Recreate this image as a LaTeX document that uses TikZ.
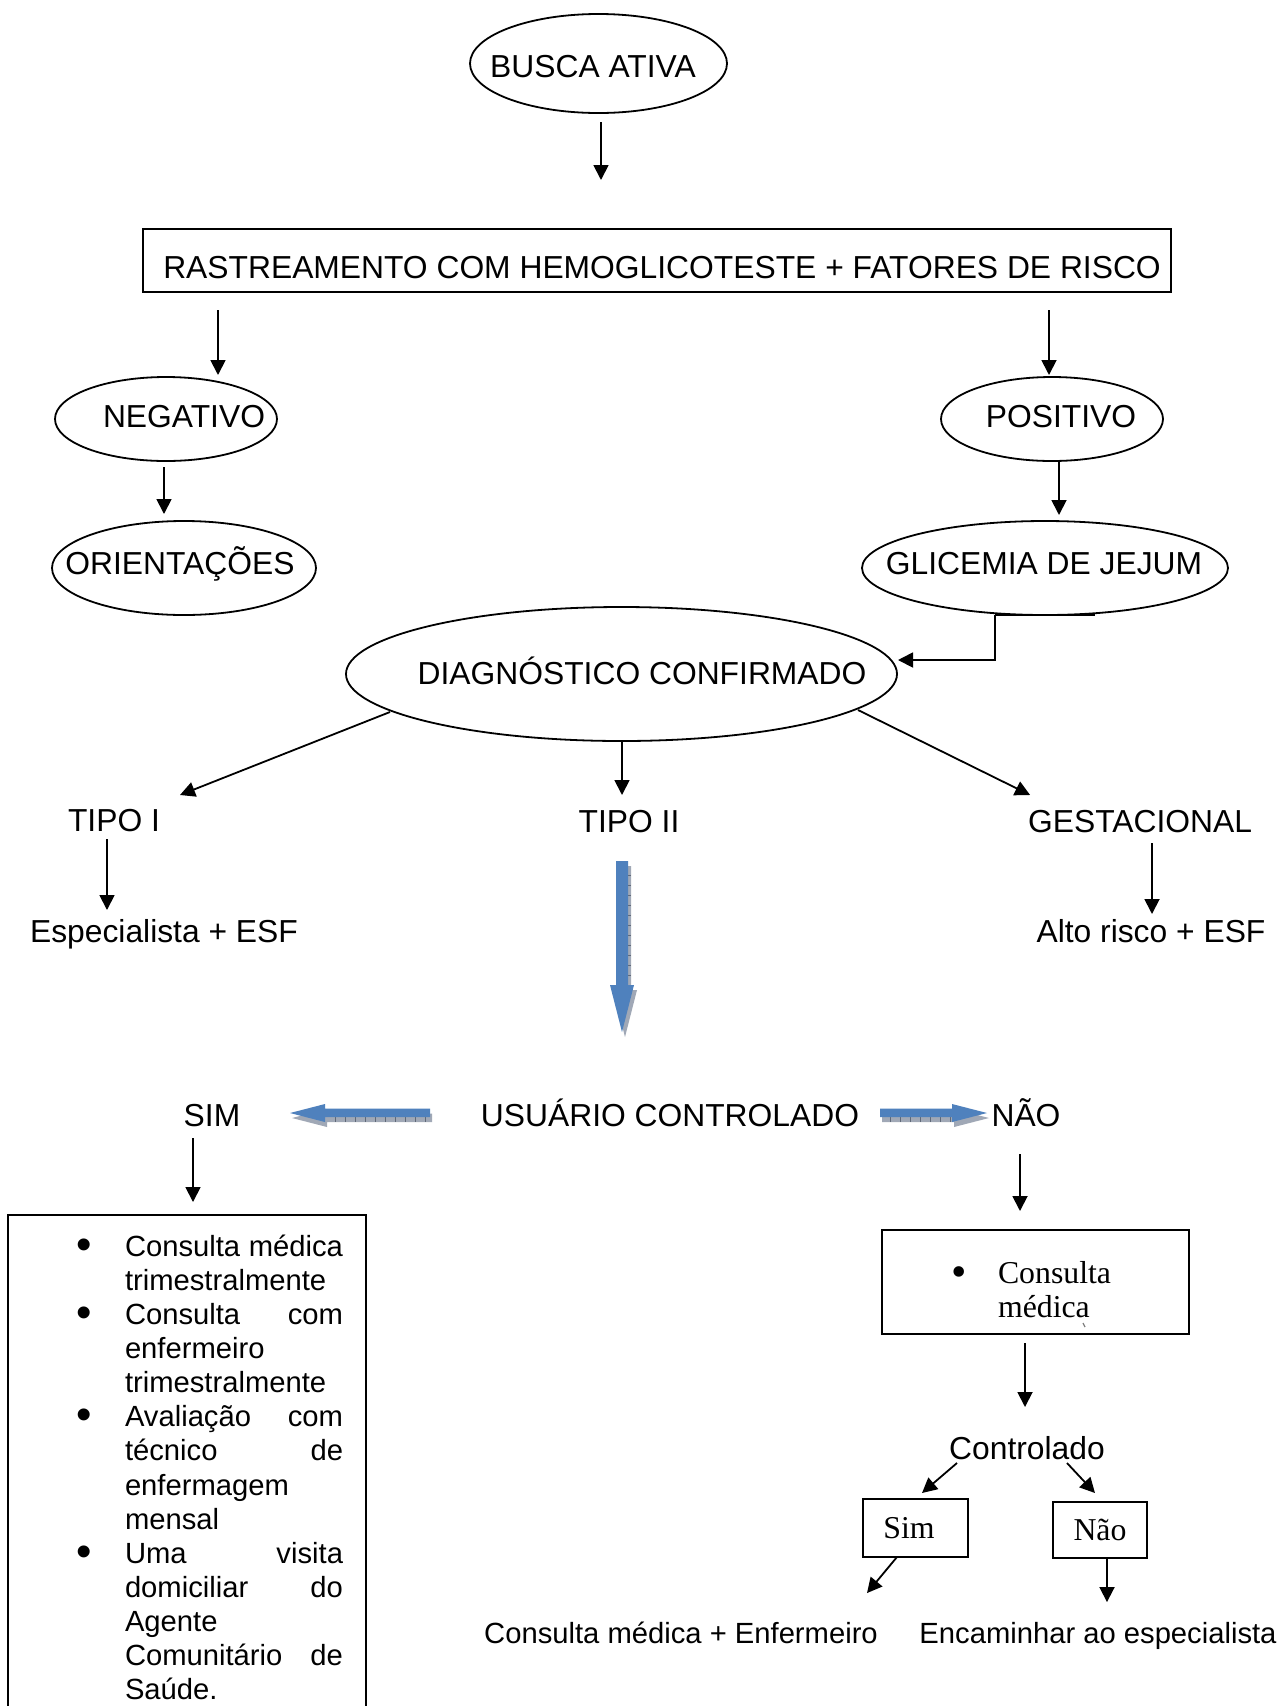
\documentclass[tikz,border=0pt]{standalone}
\usepackage{fontspec}
\setmainfont{Liberation Sans}
\newfontfamily\SerifFace{Liberation Serif}
\usetikzlibrary{arrows.meta,shapes.geometric,calc}
\definecolor{officeblue}{HTML}{4F81BD}
\definecolor{shadowfill}{RGB}{160,168,182}
\definecolor{shadowtick}{RGB}{95,105,120}
\newcommand\FontBig{\fontsize{31.8pt}{36pt}\selectfont}
\newcommand\FontSmall{\fontsize{29.2pt}{34.15pt}\selectfont}
\newcommand\FontSerif{\SerifFace\fontsize{31.8pt}{34pt}\selectfont}
\newcommand\BigBullet{\raisebox{-3pt}{\fontsize{44pt}{44pt}\selectfont •}}
\begin{document}
\begin{tikzpicture}[x=1pt,y=-1pt,
  every node/.style={inner sep=0pt, outer sep=0pt},
  ell/.style={draw, ellipse, line width=1.8pt},
  boxed/.style={draw, rectangle, line width=1.8pt},
  txt/.style={font=\FontBig, text height=22.8pt, text depth=0pt},
  txtsmall/.style={font=\FontSmall, text height=20.9pt, text depth=0pt},
  txtserif/.style={font=\FontSerif, anchor=base},
  arr/.style={line width=1.8pt, -{Triangle[length=15pt,width=15pt]}},
  plain/.style={line width=1.8pt},
  blockarrow/.style={fill=officeblue, draw=none},
  blockshadow/.style={fill=shadowfill, draw=none}
]
\useasboundingbox (0,0) rectangle (1281,1706);
\fill[white] (0,0) rectangle (1281,1706);

% ---- ellipses and boxes ----
\node[ell, minimum width=257pt, minimum height=99pt] (busca) at (598.5,63.5) {};
\node[boxed, minimum width=1028pt, minimum height=63pt] (rast) at (657,260.5) {};
\node[ell, minimum width=222pt, minimum height=84pt] (neg) at (166,419) {};
\node[ell, minimum width=222pt, minimum height=84pt] (pos) at (1052,419) {};
\node[ell, minimum width=264pt, minimum height=94pt] (orient) at (184,568) {};
\node[ell, minimum width=366pt, minimum height=94pt] (glic) at (1045,568) {};
\node[ell, minimum width=551pt, minimum height=134pt] (diag) at (621.5,674) {};

% ---- texts ----
\node[txt] (tbusca) at (593,66) {BUSCA ATIVA};
\node[txt] (trast) at (662,267.5) {RASTREAMENTO COM HEMOGLICOTESTE + FATORES DE RISCO};
\node[txt] (tneg) at (184,416) {NEGATIVO};
\node[txt] (tpos) at (1061,416) {POSITIVO};
\node[txt] (torient) at (180,563) {ORIENTAÇÕES};
\node[txt] (tglic) at (1044,563) {GLICEMIA DE JEJUM};
\node[txt] (tdiag) at (642,673.5) {DIAGNÓSTICO CONFIRMADO};
\node[txt] (tipo1) at (114,820) {TIPO I};
\node[txt] (tipo2) at (629,821) {TIPO II};
\node[txt] (gest) at (1140,821) {GESTACIONAL};
\node[txt] (esp) at (164,931) {Especialista + ESF};
\node[txt] (alto) at (1151,931) {Alto risco + ESF};
\node[txt] (sim) at (212,1115) {SIM};
\node[txt] (usu) at (670,1115) {USUÁRIO CONTROLADO};
\node[txt] (nao) at (1026,1115) {NÃO};
\node[txt] (ctrl) at (1027,1448) {Controlado};
\node[txtsmall] (cme) at (681,1633) {Consulta médica + Enfermeiro};
\node[txtsmall] (enc) at (1098,1633) {Encaminhar ao especialista};

% ---- left list box (runs past the bottom of the page) ----
\begin{scope}
\clip (0,0) rectangle (1281,1706);
\node[boxed, minimum width=358pt, minimum height=530pt, anchor=north west] (simbox) at (8,1215) {};
\end{scope}
\node[font=\FontSmall, anchor=base west] (simlist) at (125,1256) {\vtop{\hsize=218pt\baselineskip=34.15pt\lineskiplimit=-100pt
  \hbox to 218pt{\llap{\BigBullet\hskip 33pt}Consulta\hfill médica}
  \hbox{trimestralmente}
  \hbox to 218pt{\llap{\BigBullet\hskip 33pt}Consulta\hfill com}
  \hbox{enfermeiro}
  \hbox{trimestralmente}
  \hbox to 218pt{\llap{\BigBullet\hskip 33pt}Avaliação\hfill com}
  \hbox to 218pt{técnico\hfill de}
  \hbox{enfermagem}
  \hbox{mensal}
  \hbox to 218pt{\llap{\BigBullet\hskip 33pt}Uma\hfill visita}
  \hbox to 218pt{domiciliar\hfill do}
  \hbox{Agente}
  \hbox to 218pt{Comunitário\hfill de}
  \hbox{Saúde.}}};

% ---- right boxes ----
\node[boxed, minimum width=307pt, minimum height=104pt] (rbox) at (1035.5,1282) {};
\node[txtserif, anchor=base west] (rboxtxt) at (998,1283) {\vtop{\hsize=150pt\baselineskip=34pt\lineskiplimit=-100pt
  \hbox{\llap{\BigBullet\hskip 31pt}Consulta}
  \hbox{médica}}};
\draw[line width=1.2pt, gray] (1083,1323) -- (1085,1327);
\node[boxed, minimum width=105pt, minimum height=58pt] (simb) at (915.5,1528) {};
\node[txtserif] (simbt) at (909,1538) {Sim};
\node[boxed, minimum width=94pt, minimum height=56pt] (naob) at (1100,1530) {};
\node[txtserif] (naobt) at (1100,1540) {Não};

% ---- black connectors ----
\draw[arr] ([shift={(2.5,9)}]busca.south) -- ([shift={(-56,-49)}]rast.north);
\draw[arr] ([shift={(75,18)}]rast.south west) -- ([shift={(52,-2)}]neg.north);
\draw[arr] ([shift={(-122,18)}]rast.south east) -- ([shift={(-3,-2)}]pos.north);
\draw[arr] ([shift={(-2,6)}]neg.south) -- ([shift={(-20,-7)}]orient.north);
\draw[arr] ([shift={(7,1)}]pos.south) -- ([shift={(14,-6)}]glic.north);
\draw[plain] ([shift={(-50,0)}]glic.south) -- ++(100,0);
\draw[arr] ([shift={(-50,0)}]glic.south) |- ([shift={(1,-14)}]diag.east);
\draw[arr] ([shift={(-231.5,38)}]diag.center) -- ([shift={(66,-13.6)}]tipo1.north);
\draw[arr] ([shift={(0.5,1)}]diag.south) -- ([shift={(-7,-14.6)}]tipo2.north);
\draw[arr] ([shift={(236.5,36)}]diag.center) -- ([shift={(2,-14.6)}]gest.north west);
\draw[arr] ([shift={(-7,7.6)}]tipo1.south) -- ([shift={(-57,-9.6)}]esp.north);
\draw[arr] ([shift={(12,10.6)}]gest.south) -- ([shift={(1,-5.6)}]alto.north);
\draw[arr] ([shift={(-19,11.6)}]sim.south) -- ([shift={(6,-13)}]simbox.north);
\draw[arr] ([shift={(-6,27.6)}]nao.south) -- ([shift={(-15.5,-19)}]rbox.north);
\draw[arr] ([shift={(-10.5,9)}]rbox.south) -- ([shift={(-2,-29.6)}]ctrl.north);
\draw[arr] ([shift={(-70,3.6)}]ctrl.south) -- ([shift={(6.5,-6)}]simb.north);
\draw[arr] ([shift={(40,3.6)}]ctrl.south) -- ([shift={(-5,-9)}]naob.north);
\draw[arr] ([shift={(-18.5,0)}]simb.south) -- ([shift={(186,-29.5)}]cme.north);
\draw[arr] ([shift={(7,0)}]naob.south) -- ([shift={(9,-20.5)}]enc.north);

% ---- blue block arrows with hatched shadows ----
% down arrow (TIPO II -> USUARIO CONTROLADO)
\fill[blockshadow] (619,866) -- (631,866) -- (631,990) -- (637,990) -- (625,1037) -- (613,990) -- (619,990) -- cycle;
\foreach \yy in {875,885,...,985} \draw[shadowtick, line width=0.6pt] (628,\yy) -- (631,\yy);
\fill[blockarrow] (616,861) -- (628,861) -- (628,985) -- (634,985) -- (622,1032) -- (610,985) -- (616,985) -- cycle;
% left arrow (-> SIM)
\fill[blockshadow] (292,1118) -- (327,1109) -- (327,1113.5) -- (432,1113.5) -- (432,1122) -- (327,1122) -- (327,1127) -- cycle;
\foreach \xx in {335,345,...,425} \draw[shadowtick, line width=0.6pt] (\xx,1117) -- (\xx,1122);
\fill[blockarrow] (290,1113) -- (325,1104) -- (325,1108.5) -- (430,1108.5) -- (430,1117) -- (325,1117) -- (325,1122) -- cycle;
% right arrow (-> NAO)
\fill[blockshadow] (989,1118) -- (954,1109) -- (954,1113.5) -- (882,1113.5) -- (882,1122) -- (954,1122) -- (954,1127) -- cycle;
\foreach \xx in {890,900,...,950} \draw[shadowtick, line width=0.6pt] (\xx,1117) -- (\xx,1122);
\fill[blockarrow] (987,1113) -- (952,1104) -- (952,1108.5) -- (880,1108.5) -- (880,1117) -- (952,1117) -- (952,1122) -- cycle;
\end{tikzpicture}
\end{document}
